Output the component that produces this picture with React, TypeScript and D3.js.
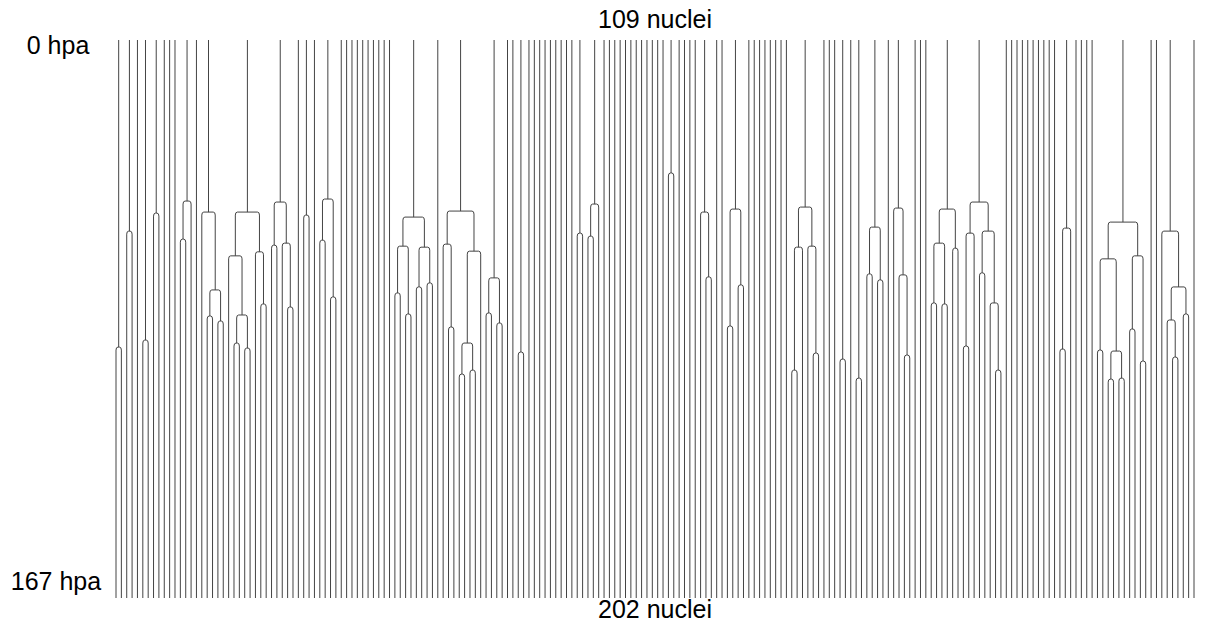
import React from 'react';
import * as d3 from 'd3';

type Lineage = null | [number, Lineage, Lineage];
const L: Lineage = null;

const topLabel = '109 nuclei';
const bottomLabel = '202 nuclei';
const timeDomain = [0, 167];
const timeLabels = ['0 hpa', '167 hpa'];

// Each root lineage: null = no division, [divisionTime (hpa), daughterA, daughterB]
const lineages: Lineage[] = [
  [91.9, L, L],
  [57.2, L, L],
  L,
  [89.8, L, L],
  [51.8, L, L],
  L, L, L,
  [48.2, [59.6, L, L], L],
  L,
  [51.5, L, [74.8, [82.6, L, L], [84.1, L, L]]],
  [51.5, [64.6, L, [82.3, [90.7, L, L], [92.2, L, L]]], [63.4, L, [79.0, L, L]]],
  [48.5, [61.4, L, L], [60.8, L, [79.9, L, L]]],
  L,
  [52.4, L, L],
  L,
  [47.6, [59.9, L, L], [76.9, L, L]],
  L, L, L, L, L, L, L, L, L, L,
  [53.0, [61.7, [75.7, L, L], [82.0, L, L]], [62.0, [73.9, L, L], [72.7, L, L]]],
  L,
  [51.2, [61.1, L, [85.9, L, L]], [63.2, [90.7, [100.0, L, L], [98.8, L, L]], L]],
  [71.2, [81.7, L, L], [84.7, L, L]],
  L, L,
  [93.4, L, L],
  L, L, L, L, L, L, L, L, L,
  [57.8, L, L],
  [49.1, [58.7, L, L], L],
  L, L, L, L, L, L, L, L, L, L, L, L,
  [39.8, L, L],
  L, L, L, L,
  [51.5, L, [70.9, L, L]],
  L, L,
  [50.6, [85.6, L, L], [73.3, L, L]],
  L, L, L, L, L, L, L, L,
  [50.0, [62.0, [98.8, L, L], L], [61.7, L, [93.7, L, L]]],
  L, L, L,
  [95.5, L, L],
  L,
  [101.2, L, L],
  [56.0, [70.0, L, L], [71.8, L, L]],
  L,
  [50.3, L, [70.3, L, [94.3, L, L]]],
  L, L, L,
  [50.6, [60.8, [78.7, L, L], [79.0, L, L]], [62.3, L, L]],
  [48.5, [57.8, [91.6, L, L], L], [57.2, [69.7, L, L], [78.7, L, [98.8, L, L]]]],
  L, L, L, L, L, L, L, L, L, L,
  [56.3, [92.5, L, L], L],
  L, L, L, L,
  [54.5, [65.5, [92.8, L, L], [93.1, [101.5, L, L], [101.2, L, L]]], [64.6, [86.5, L, L], [96.1, L, L]]],
  L, L,
  [57.2, L, [73.9, [83.8, L, [94.9, L, L]], [82.0, L, L]]],
  L,
];

const W = 1209;
const H = 625;

function countLeaves(n: Lineage): number {
  return n === null ? 1 : countLeaves(n[1]) + countLeaves(n[2]);
}

export default function App() {
  const nLeaves = d3.sum(lineages, countLeaves);
  const x = d3.scaleLinear().domain([0, nLeaves - 1]).range([116, 1194]);
  const y = d3.scaleLinear().domain(timeDomain).range([40, 598]);

  const verticals: { x: number; y1: number; y2: number }[] = [];
  const connectors: { xa: number; xb: number; y: number }[] = [];
  let idx = 0;
  const r = 3;

  function layout(n: Lineage, y1: number): number {
    if (n === null) {
      const xi = x(idx++);
      verticals.push({ x: xi, y1, y2: y(timeDomain[1]) });
      return xi;
    }
    const [t, a, b] = n;
    const yt = y(t);
    const xa = layout(a, yt + r);
    const xb = layout(b, yt + r);
    const xm = (xa + xb) / 2;
    verticals.push({ x: xm, y1, y2: yt });
    connectors.push({ xa, xb, y: yt });
    return xm;
  }
  lineages.forEach((n) => layout(n, y(timeDomain[0])));

  const stroke = '#444';
  const font = '"Liberation Sans", Arial, sans-serif';
  const cx = (x(0) + x(nLeaves - 1)) / 2;

  return (
    <svg width={W} height={H} style={{ position: 'absolute', left: 0, top: 0, background: '#fff' }}>
      <g fill="none" stroke={stroke} strokeWidth={1}>
        {verticals.map((v, i) => (
          <line key={'v' + i} x1={v.x} x2={v.x} y1={v.y1} y2={v.y2} />
        ))}
        {connectors.map((c, i) => (
          <path
            key={'c' + i}
            d={`M${c.xa},${c.y + r} Q${c.xa},${c.y} ${c.xa + 2},${c.y} L${c.xb - 2},${c.y} Q${c.xb},${c.y} ${c.xb},${c.y + r}`}
          />
        ))}
      </g>
      <g fontFamily={font} fontSize={25} fill="#000" textAnchor="middle">
        <text x={cx} y={21} dominantBaseline="middle">{topLabel}</text>
        <text x={cx} y={611} dominantBaseline="middle">{bottomLabel}</text>
        <text x={58} y={47} dominantBaseline="middle">{timeLabels[0]}</text>
        <text x={56} y={583} dominantBaseline="middle">{timeLabels[1]}</text>
      </g>
    </svg>
  );
}
